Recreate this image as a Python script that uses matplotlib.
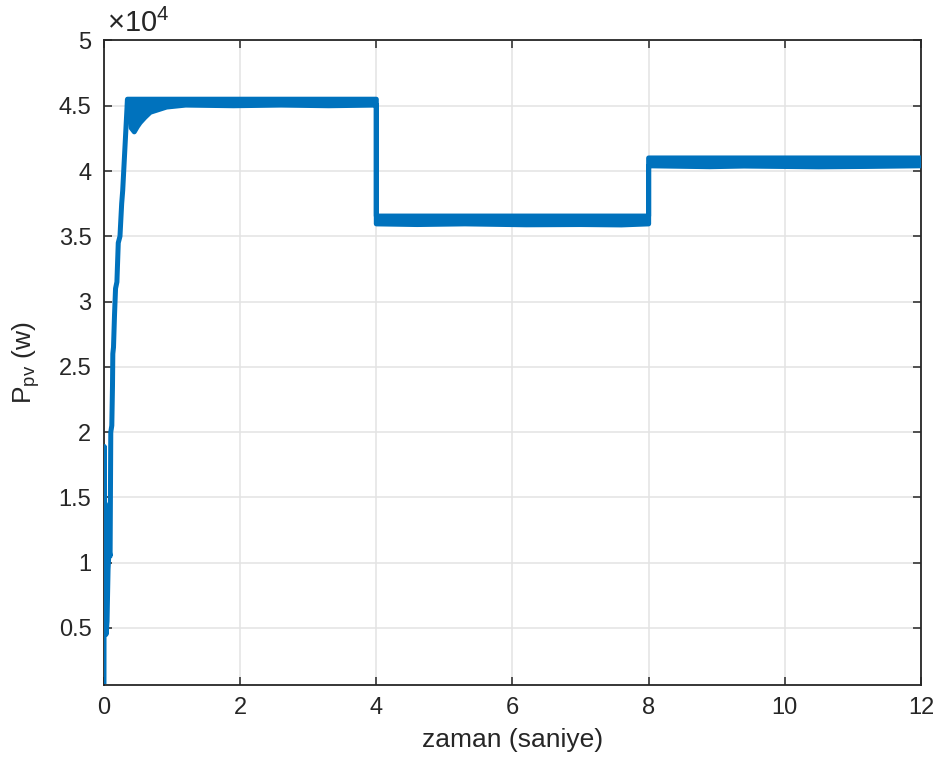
import matplotlib
matplotlib.use("Agg")
import matplotlib.pyplot as plt

# ---- data (power in W, time in s) ----
# start-up transient of the PV power
rise_t = [0.000, 0.004, 0.012, 0.020, 0.030, 0.045, 0.060, 0.075, 0.090,
          0.100, 0.115, 0.125, 0.130, 0.140, 0.155, 0.170, 0.190, 0.210,
          0.235, 0.260, 0.275, 0.290, 0.310, 0.330, 0.345]
rise_p = [700, 18900, 9000, 14500, 4500, 5500, 9500, 11000, 10500,
          20000, 20500, 23500, 26000, 26500, 29000, 31000, 31500, 34500,
          35000, 37500, 38500, 40000, 42000, 44000, 45500]

# envelope of the fast ripple band after the start-up
env_t  = [0.345, 0.37, 0.40, 0.445, 0.49, 0.53, 0.60, 0.68, 0.80, 0.92, 1.20,
          1.9, 2.6, 3.3, 4.0,
          4.0, 4.6, 5.3, 6.2, 7.0, 7.6, 8.0,
          8.0, 8.9, 9.4, 10.5, 11.2, 12.0]
env_hi = [45500, 45500, 45500, 45500, 45500, 45500, 45500, 45500, 45500, 45500, 45500,
          45500, 45500, 45500, 45500,
          36550, 36550, 36550, 36550, 36550, 36550, 36550,
          41000, 41000, 41000, 41000, 41000, 41000]
env_lo = [45000, 44400, 43300, 43000, 43400, 43700, 44100, 44500, 44700, 44900, 45050,
          45000, 45050, 45000, 45050,
          35950, 35900, 35950, 35880, 35900, 35870, 35950,
          40400, 40330, 40380, 40320, 40350, 40400]

x_ticks = [0, 2, 4, 6, 8, 10, 12]
y_ticks = [5000, 10000, 15000, 20000, 25000, 30000, 35000, 40000, 45000, 50000]
y_scale = 1e4

blue = "#0072BD"
ink = "#262626"
plt.rcParams["font.family"] = ["Liberation Sans", "DejaVu Sans"]
plt.rcParams["mathtext.fontset"] = "custom"
plt.rcParams["mathtext.rm"] = "Liberation Sans"
plt.rcParams["mathtext.it"] = "Liberation Sans:italic"

fig = plt.figure(figsize=(9.35, 7.65), dpi=100)
ax = fig.add_axes([0.1112, 0.1046, 0.8738, 0.8425])

lw = 3.6
ax.plot(rise_t, rise_p, color=blue, lw=lw, solid_joinstyle="round",
        solid_capstyle="butt", zorder=3)

poly_x = list(env_t) + list(env_t[::-1])
poly_y = list(env_hi) + list(env_lo[::-1])
ax.fill(poly_x, poly_y, facecolor=blue, edgecolor=blue, lw=lw,
        joinstyle="round", zorder=3)

ax.set_xlim(0, 12)
ax.set_ylim(630, 50000)
ax.set_xticks(x_ticks)
ax.set_xticklabels([f"{v:g}" for v in x_ticks])
ax.set_yticks(y_ticks)
ax.set_yticklabels([f"{v / y_scale:g}" for v in y_ticks])

ax.grid(True, color="#E3E3E3", lw=1.1, zorder=0)
ax.set_axisbelow(True)
for s in ax.spines.values():
    s.set_color(ink)
    s.set_linewidth(1.3)
ax.tick_params(direction="in", length=6, width=1.1, top=True, right=True,
               colors=ink, labelsize=17, pad=9)

ax.set_xlabel("zaman (saniye)", fontsize=19, color=ink, labelpad=6)
ax.set_ylabel(r"P$_{\mathrm{pv}}$ (w)", fontsize=19, color=ink, labelpad=12)
ax.text(0.004, 1.004, r"$\times\mathrm{10}^{4}$", transform=ax.transAxes,
        fontsize=21, color=ink, ha="left", va="bottom")

fig.savefig("out.png", dpi=100)
